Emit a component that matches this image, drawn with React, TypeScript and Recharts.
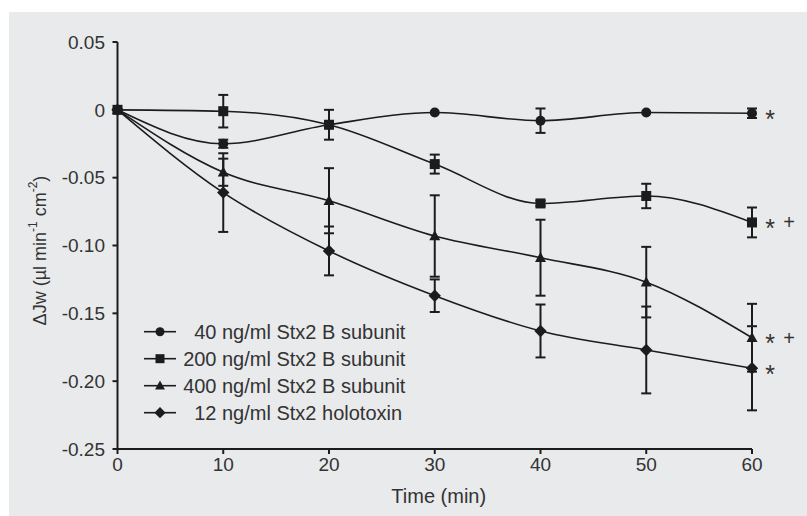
import React from "react";
import { LineChart, Line, XAxis, YAxis, ErrorBar, Legend } from "recharts";

const TIME = [0, 10, 20, 30, 40, 50, 60];
const X_TICKS = [0, 10, 20, 30, 40, 50, 60];
const Y_TICKS = [0.05, 0, -0.05, -0.1, -0.15, -0.2, -0.25];
const Y_TICK_LABELS = ["0.05", "0", "-0.05", "-0.10", "-0.15", "-0.20", "-0.25"];

const S40 = [0, -0.025, -0.011, -0.002, -0.008, -0.002, -0.0025];
const S40_ERR = [0, 0.003, 0.002, 0, 0.009, 0, 0.0035];
const S200 = [0, -0.001, -0.011, -0.04, -0.069, -0.0635, -0.083];
const S200_ERR = [0, 0.012, 0.011, 0.007, 0.002, 0.009, 0.011];
const S400 = [0, -0.046, -0.067, -0.093, -0.109, -0.127, -0.168];
const S400_ERR = [0, 0.01, 0.024, 0.03, 0.028, 0.026, 0.025];
const HOLO = [0, -0.061, -0.104, -0.137, -0.163, -0.177, -0.1905];
const HOLO_ERR = [0, 0.029, 0.018, 0.012, 0.0195, 0.032, 0.031];

const SERIES_NAMES = [
  "40 ng/ml Stx2 B subunit",
  "200 ng/ml Stx2 B subunit",
  "400 ng/ml Stx2 B subunit",
  "12 ng/ml Stx2 holotoxin",
];
const SERIES_KEYS = ["s40", "s200", "s400", "holo"];
const SERIES_SHAPES = ["circle", "square", "triangle", "diamond"];
const ANNOTATIONS = ["*", "* +", "* +", "*"];

const data = TIME.map((t, i) => ({
  t,
  s40: S40[i],
  s40e: S40_ERR[i],
  s200: S200[i],
  s200e: S200_ERR[i],
  s400: S400[i],
  s400e: S400_ERR[i],
  holo: HOLO[i],
  holoe: HOLO_ERR[i],
}));

const INK = "#1c1c1c";
const TEXT = "#333333";
const FONT = "'Liberation Sans', Arial, Helvetica, sans-serif";

function marker(shape: string, cx: number, cy: number, s: number, key?: any) {
  if (shape === "circle") return <circle key={key} cx={cx} cy={cy} r={s / 2} fill={INK} />;
  if (shape === "square")
    return <rect key={key} x={cx - s / 2} y={cy - s / 2} width={s} height={s} fill={INK} />;
  if (shape === "triangle") {
    const h = s * 0.95;
    return (
      <polygon
        key={key}
        points={`${cx},${cy - h * 0.6} ${cx - s * 0.55},${cy + h * 0.45} ${cx + s * 0.55},${cy + h * 0.45}`}
        fill={INK}
      />
    );
  }
  const d = s * 0.62;
  return (
    <polygon
      key={key}
      points={`${cx},${cy - d} ${cx + d},${cy} ${cx},${cy + d} ${cx - d},${cy}`}
      fill={INK}
    />
  );
}

const makeDot = (shape: string) => (props: any) => {
  const { cx, cy, index } = props;
  if (cx == null || cy == null) return <g key={`d-${shape}-${index}`} />;
  return marker(shape, cx, cy, 10, `d-${shape}-${index}`);
};

const makeAnno = (text: string) => (props: any) => {
  const { x, y, index } = props;
  if (index !== TIME.length - 1 || x == null || y == null) return <g key={`a-${index}`} />;
  const parts = text.split(" ");
  return (
    <g key={`a-${index}`}>
      {parts.map((p, k) => (
        <text
          key={k}
          x={x + 18 + k * 19}
          y={p === "*" ? y + 14.5 : y + 7}
          textAnchor="middle"
          fontSize={p === "*" ? 25 : 20}
          fontFamily={FONT}
          fill={TEXT}
        >
          {p}
        </text>
      ))}
    </g>
  );
};

const renderLegend = (props: any) => {
  const rows = SERIES_NAMES;
  return (
    <svg width={798} height={504} style={{ display: "block" }}>
      {rows.map((name, i) => {
        const y = 319.7 + i * 27;
        const sp = name.indexOf(" ");
        const num = name.slice(0, sp);
        const rest = name.slice(sp + 1);
        return (
          <g key={name}>
            <line x1={135} x2={167} y1={y} y2={y} stroke={INK} strokeWidth={1.6} />
            {marker(SERIES_SHAPES[i], 151, y, 9)}
            <text x={207.5} y={y + 7} textAnchor="end" fontSize={20} fontFamily={FONT} fill={TEXT}>
              {num}
            </text>
            <text x={213} y={y + 7} fontSize={20} fontFamily={FONT} fill={TEXT}>
              {rest}
            </text>
          </g>
        );
      })}
    </svg>
  );
};

const renderYLabel = (props: any) => {
  const vb = props.viewBox || {};
  const cx = (vb.x ?? 8) + 23;
  const cy = (vb.y ?? 30) + (vb.height ?? 407) / 2 + 5;
  return (
    <text
      x={cx}
      y={cy}
      transform={`rotate(-90 ${cx} ${cy})`}
      textAnchor="middle"
      dominantBaseline="central"
      fontSize={18}
      fontFamily={FONT}
      fill={TEXT}
    >
      {"ΔJw (µl min"}
      <tspan dy={-7} fontSize={12}>{"-1"}</tspan>
      <tspan dy={7}>{" cm"}</tspan>
      <tspan dy={-7} fontSize={12}>{"-2"}</tspan>
      <tspan dy={7}>{")"}</tspan>
    </text>
  );
};

const renderXLabel = (props: any) => {
  const vb = props.viewBox || {};
  const cx = (vb.x ?? 108.5) + (vb.width ?? 634.5) / 2 + 4;
  const y = (vb.y ?? 437) + 54;
  return (
    <text x={cx} y={y} textAnchor="middle" fontSize={20} fontFamily={FONT} fill={TEXT}>
      Time (min)
    </text>
  );
};

export default function App() {
  return (
    <div
      style={{
        position: "absolute",
        left: 9,
        top: 12,
        width: 798,
        height: 504,
        background: "#e9eaec",
      }}
    >
      <LineChart
        width={798}
        height={504}
        data={data}
        margin={{ top: 30, right: 55, bottom: 0, left: 8 }}
      >
        <XAxis
          dataKey="t"
          type="number"
          domain={[0, 60]}
          ticks={X_TICKS}
          tickSize={5}
          tickMargin={4}
          height={67}
          axisLine={{ stroke: INK, strokeWidth: 2 }}
          tickLine={{ stroke: INK, strokeWidth: 2 }}
          tick={{ fontSize: 19, fontFamily: FONT, fill: TEXT }}
          label={renderXLabel}
        />
        <YAxis
          type="number"
          domain={[-0.25, 0.05]}
          ticks={Y_TICKS}
          tickFormatter={(v: number) => Y_TICK_LABELS[Y_TICKS.findIndex((t) => Math.abs(t - v) < 1e-9)] ?? String(v)}
          width={100.5}
          tickSize={5}
          tickMargin={7.5}
          interval={0}
          axisLine={{ stroke: INK, strokeWidth: 2 }}
          tickLine={{ stroke: INK, strokeWidth: 2 }}
          tick={{ fontSize: 19, fontFamily: FONT, fill: TEXT }}
          label={renderYLabel}
        />
        <Legend
          layout="vertical"
          align="center"
          verticalAlign="middle"
          content={renderLegend}
          wrapperStyle={{ position: "absolute", left: 0, top: 0, width: 798, height: 504, pointerEvents: "none" }}
        />
        {SERIES_KEYS.map((k, i) => (
          <Line
            key={k}
            dataKey={k}
            name={SERIES_NAMES[i]}
            type="monotone"
            stroke={INK}
            strokeWidth={1.6}
            dot={makeDot(SERIES_SHAPES[i])}
            activeDot={false}
            isAnimationActive={false}
            label={makeAnno(ANNOTATIONS[i])}
          >
            <ErrorBar dataKey={`${k}e`} direction="y" width={5} stroke={INK} strokeWidth={2} />
          </Line>
        ))}
      </LineChart>
    </div>
  );
}
